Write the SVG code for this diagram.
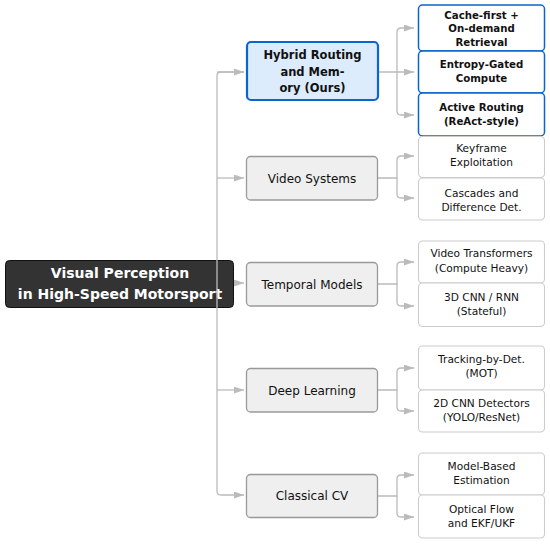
<svg xmlns="http://www.w3.org/2000/svg" width="550" height="544" viewBox="0 0 550 544">
<style>
text{font-family:"DejaVu Sans","Liberation Sans",sans-serif;text-anchor:middle;fill:#111}
.root rect{fill:#333;stroke:#111;stroke-width:1}
.root text{fill:#fff;font-weight:bold;font-size:14px}
.cat rect{fill:#efefef;stroke:#999;stroke-width:1.3}
.cat text{font-size:12px}
.ours rect{fill:#dcecfd;stroke:#0a66cc;stroke-width:2.2}
.ours text{font-size:11.5px;font-weight:bold}
.leaf rect{fill:#fff;stroke:#ccc;stroke-width:1.1}
.leaf text{font-size:10.6px}
.bleaf rect{fill:#fff;stroke:#0a66cc;stroke-width:1.5}
.bleaf text{font-size:10.2px;font-weight:bold}
.conn path{fill:none;stroke:#bbb;stroke-width:1.3}
</style>
<defs>
<marker id="ah" markerUnits="userSpaceOnUse" markerWidth="11" markerHeight="8" refX="10" refY="3.5" orient="auto">
<path d="M0,0 L10,3.5 L0,7 z" fill="#bbb"/>
</marker>
</defs>
<g id="connectors" class="conn">
<path d="M244,72 H221 Q217,72 217,76 V491 Q217,495 221,495 H244" marker-end="url(#ah)"/>
<path d="M217,72 H244" marker-end="url(#ah)"/>
<path d="M217,178 H244" marker-end="url(#ah)"/>
<path d="M217,283 H244" marker-end="url(#ah)"/>
<path d="M217,390 H244" marker-end="url(#ah)"/>
<path d="M378,72 H414" marker-end="url(#ah)"/>
<path d="M397,72 V32 Q397,28 401,28 H414" marker-end="url(#ah)"/>
<path d="M397,72 V111 Q397,115 401,115 H414" marker-end="url(#ah)"/>
<path d="M378,178 H397 V160 Q397,156 401,156 H414" marker-end="url(#ah)"/>
<path d="M397,178 V194 Q397,198 401,198 H414" marker-end="url(#ah)"/>
<path d="M378,284 H397 V266 Q397,262 401,262 H414" marker-end="url(#ah)"/>
<path d="M397,284 V302 Q397,306 401,306 H414" marker-end="url(#ah)"/>
<path d="M378,390 H397 V372 Q397,368 401,368 H414" marker-end="url(#ah)"/>
<path d="M397,390 V407 Q397,411 401,411 H414" marker-end="url(#ah)"/>
<path d="M378,496 H397 V479 Q397,475 401,475 H414" marker-end="url(#ah)"/>
<path d="M397,496 V513 Q397,517 401,517 H414" marker-end="url(#ah)"/>
</g>
<g id="root" class="root">
<rect x="5.5" y="260.5" width="228" height="47" rx="4"/>
<text x="120" y="278">Visual Perception</text>
<text x="120" y="298.5">in High-Speed Motorsport</text>
</g>
<path d="M217,260 V308" stroke="#bbb" stroke-width="1.3"/>
<g id="hybrid" class="ours">
<rect x="247" y="42" width="131" height="58" rx="4"/>
<text x="312.5" y="58.5">Hybrid Routing</text>
<text x="312.5" y="75.5">and Mem-</text>
<text x="312.5" y="91.5">ory (Ours)</text>
</g>
<g id="video" class="cat">
<rect x="246.5" y="156.5" width="131" height="43.5" rx="4"/>
<text x="312" y="182.5">Video Systems</text>
</g>
<g id="temporal" class="cat">
<rect x="246.5" y="262.5" width="131" height="43.5" rx="4"/>
<text x="312" y="288.5">Temporal Models</text>
</g>
<g id="deep" class="cat">
<rect x="246.5" y="368.5" width="131" height="43.5" rx="4"/>
<text x="312" y="394.5">Deep Learning</text>
</g>
<g id="classical" class="cat">
<rect x="246.5" y="474.5" width="131" height="43" rx="4"/>
<text x="312" y="500">Classical CV</text>
</g>
<g id="cache" class="bleaf">
<rect x="418.5" y="5" width="126" height="46" rx="4"/>
<text x="481.5" y="18.5">Cache-first +</text>
<text x="481.5" y="32">On-demand</text>
<text x="481.5" y="45.5">Retrieval</text>
</g>
<g id="entropy" class="bleaf">
<rect x="418.5" y="51" width="126" height="42" rx="4"/>
<text x="481.5" y="68">Entropy-Gated</text>
<text x="481.5" y="81.5">Compute</text>
</g>
<g id="active" class="bleaf">
<rect x="418.5" y="93" width="126" height="43" rx="4"/>
<text x="481.5" y="111">Active Routing</text>
<text x="481.5" y="124.5">(ReAct-style)</text>
</g>
<g id="keyframe" class="leaf">
<rect x="418.5" y="136.5" width="126" height="41" rx="4"/>
<text x="481.5" y="152">Keyframe</text>
<text x="481.5" y="166">Exploitation</text>
</g>
<g id="cascades" class="leaf">
<rect x="418.5" y="178" width="126" height="42" rx="4"/>
<text x="481.5" y="197">Cascades and</text>
<text x="481.5" y="211">Difference Det.</text>
</g>
<g id="vidtrans" class="leaf">
<rect x="418.5" y="241" width="126" height="42" rx="4"/>
<text x="481.5" y="257">Video Transformers</text>
<text x="481.5" y="271.5">(Compute Heavy)</text>
</g>
<g id="cnn3d" class="leaf">
<rect x="418.5" y="283" width="126" height="43.5" rx="4"/>
<text x="481.5" y="300.5">3D CNN / RNN</text>
<text x="481.5" y="315">(Stateful)</text>
</g>
<g id="tracking" class="leaf">
<rect x="418.5" y="346" width="126" height="44" rx="4"/>
<text x="481.5" y="363">Tracking-by-Det.</text>
<text x="481.5" y="377">(MOT)</text>
</g>
<g id="cnn2d" class="leaf">
<rect x="418.5" y="390" width="126" height="42" rx="4"/>
<text x="481.5" y="407">2D CNN Detectors</text>
<text x="481.5" y="421">(YOLO/ResNet)</text>
</g>
<g id="modelbased" class="leaf">
<rect x="418.5" y="453" width="126" height="42" rx="4"/>
<text x="481.5" y="470">Model-Based</text>
<text x="481.5" y="484">Estimation</text>
</g>
<g id="optflow" class="leaf">
<rect x="418.5" y="495" width="126" height="43" rx="4"/>
<text x="481.5" y="513">Optical Flow</text>
<text x="481.5" y="527">and EKF/UKF</text>
</g>
</svg>
